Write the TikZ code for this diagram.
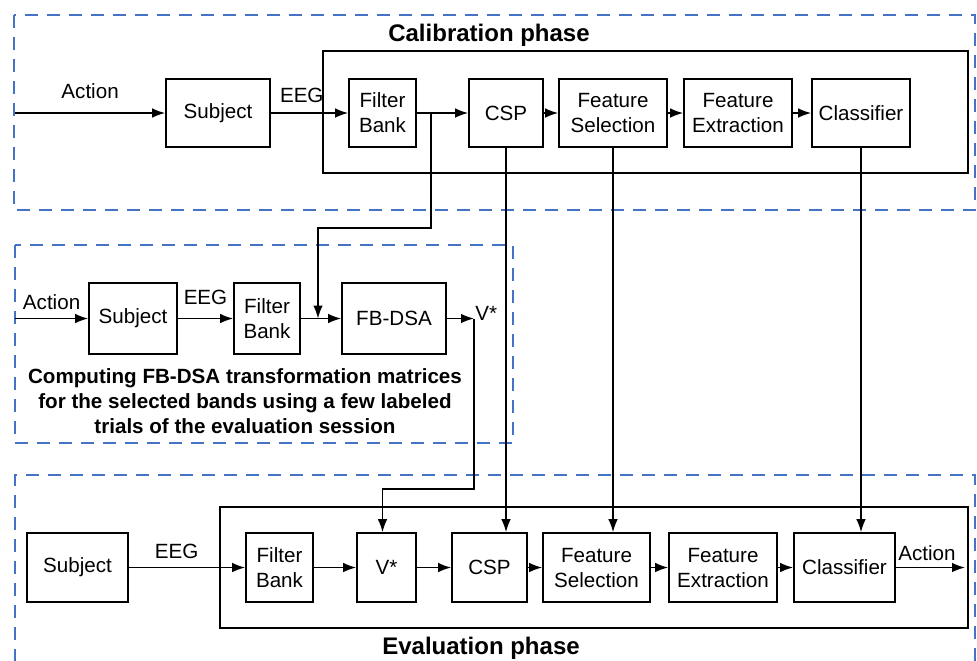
\documentclass[tikz,border=0pt]{standalone}
\usepackage{fontspec}
\setmainfont{Liberation Sans}
\usepackage{tikz}
\usetikzlibrary{arrows.meta,positioning}
\definecolor{dashblue}{RGB}{68,114,196}
\tikzset{
  blk/.style={draw, line width=0.8pt, align=center, inner sep=1pt, font=\fontsize{10.3}{12.5}\selectfont},
  lbl/.style={inner sep=0pt, font=\fontsize{10.3}{12.5}\selectfont},
  arr/.style={line width=0.8pt, -{Latex[length=6.5pt,width=4.8pt]}},
  conn/.style={line width=0.8pt},
  phase/.style={draw=dashblue, line width=0.9pt, dash pattern=on 6.5pt off 4.5pt},
  ttl/.style={font=\bfseries\fontsize{12}{14}\selectfont},
  note/.style={align=center, font=\bfseries\fontsize{10.3}{12.5}\selectfont}
}

\begin{document}
\begin{tikzpicture}[x=0.5pt,y=-0.5pt]
                    \useasboundingbox (0,0) rectangle (977,660);

                    % calibration phase
                    \draw[phase] (14,15) rectangle (975,210);
                    \node[ttl] (caltitle) at (489,35) {Calibration phase};
                    \draw[conn] (323,51) rectangle (968,173);
                    \node[blk, minimum width=52pt, minimum height=34pt] (subj1) at (218,113) {Subject};
                    \node[blk, minimum width=33.5pt, minimum height=34pt] (fb1) at (382.5,113) {Filter\\Bank};
                    \node[blk, minimum width=37pt, minimum height=34pt] (csp1) at (506,113) {CSP};
                    \node[blk, minimum width=54pt, minimum height=34pt] (fs1) at (613,113) {Feature\\Selection};
                    \node[blk, minimum width=54pt, minimum height=34pt] (fe1) at (738,113) {Feature\\Extraction};
                    \node[blk, minimum width=49pt, minimum height=34pt] (cls1) at (861,113) {Classifier};
                    \coordinate (act1) at (15,113);
                    \coordinate (br1) at (431,113);
                    \coordinate (brbend) at (431,228);

                    \draw[arr] (act1) -- node[lbl, above=7pt] (actlbl1) {Action} (subj1);
                    \draw[arr] (subj1) -- node[lbl, above=5pt, pos=0.4] (eeglbl1) {EEG} (fb1);
                    \draw[arr] (fb1) -- (csp1);
                    \draw[arr] (csp1) -- (fs1);
                    \draw[arr] (fs1) -- (fe1);
                    \draw[arr] (fe1) -- (cls1);

                    % FB-DSA
                    \draw[phase] (15,245) rectangle (513,443);
                    \node[blk, minimum width=44pt, minimum height=35.5pt] (subj2) at (133,318.5) {Subject};
                    \node[blk, minimum width=33pt, minimum height=35.5pt] (fb2) at (267,318.5) {Filter\\Bank};
                    \node[blk, minimum width=52pt, minimum height=35.5pt] (fbdsa) at (394,318.5) {FB-DSA};
                    \coordinate (act2) at (15,318.5);
                    \coordinate (tap) at (318,318.5);
                    \coordinate (vout) at (474,318.5);
                    \coordinate (vbend) at (474,489);
                    \node[lbl, anchor=south west] (vlbl) at ([xshift=0.5pt,yshift=-1pt]vout) {V*};
                    \node[note] (notetxt) at (245,401) {Computing FB-DSA transformation matrices\\for the selected bands using a few labeled\\trials of the evaluation session};

                    \draw[arr] (act2) -- node[lbl, above=4pt] (actlbl2) {Action} (subj2);
                    \draw[arr] (subj2) -- node[lbl, above=6.5pt] (eeglbl2) {EEG} (fb2);
                    \draw[arr] (fb2) -- (fbdsa);
                    \draw[arr] (fbdsa) -- (vout);
                    \draw[arr] (br1) -- (brbend) -| (tap);

                    % evaluation phase
                    \draw[phase] (15,662) -- (15,475) -- (975,475) -- (975,662);
                    \node[ttl] (evaltitle) at (481,648) {Evaluation phase};
                    \draw[conn] (220,507) rectangle (968,628);
                    \node[blk, minimum width=50.5pt, minimum height=34.5pt] (subj3) at (77.5,567.5) {Subject};
                    \node[blk, minimum width=33.5pt, minimum height=34.5pt] (fb3) at (279.5,567.5) {Filter\\Bank};
                    \node[blk, minimum width=29.5pt, minimum height=34.5pt] (vst) at (386.5,567.5) {V*};
                    \node[blk, minimum width=37.5pt, minimum height=34.5pt] (csp3) at (489.5,567.5) {CSP};
                    \node[blk, minimum width=53.5pt, minimum height=34.5pt] (fs3) at (596.5,567.5) {Feature\\Selection};
                    \node[blk, minimum width=54pt, minimum height=34.5pt] (fe3) at (723,567.5) {Feature\\Extraction};
                    \node[blk, minimum width=50.5pt, minimum height=34.5pt] (cls3) at (844.5,567.5) {Classifier};
                    \coordinate (act3) at (965,567.5);

                    \draw[arr] (subj3) -- node[lbl, above=4pt, pos=0.41] (eeglbl3) {EEG} (fb3);
                    \draw[arr] (fb3) -- (vst);
                    \draw[arr] (vst) -- (csp3);
                    \draw[arr] (csp3) -- (fs3);
                    \draw[arr] (fs3) -- (fe3);
                    \draw[arr] (fe3) -- (cls3);
                    \draw[arr] (cls3) -- node[lbl, above=3pt, pos=0.45] (actlbl3) {Action} (act3);

                    % links between phases
                    \draw[arr] (vout) -- (vbend) -| ([xshift=-2pt]vst.north);
                    \draw[arr] (csp1.south) -- (csp1.south |- csp3.north);
                    \draw[arr] (fs1.south) -- (fs1.south |- fs3.north);
                    \draw[arr] (cls1.south) -- (cls1.south |- cls3.north);
                \end{tikzpicture}
\end{document}
